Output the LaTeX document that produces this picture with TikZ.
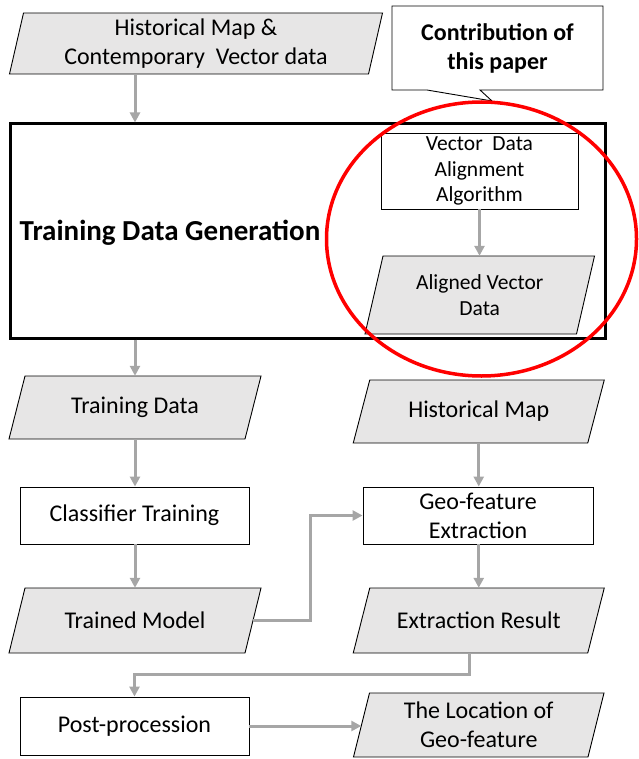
\documentclass[tikz,border=0pt]{standalone}
\usepackage{fontspec}
\setmainfont{Carlito}
\usetikzlibrary{arrows.meta,calc}
\definecolor{paragray}{HTML}{E7E6E6}
\definecolor{linegray}{HTML}{A6A6A6}
\tikzset{
  txt/.style={font=\fontsize{24}{29}\selectfont, align=center, inner sep=0pt, text=black},
  paratext/.style={txt, draw=none},
  parashape/.style={draw=black, line width=0.9pt, fill=paragray},
  procbox/.style={txt, draw=black, line width=0.9pt, fill=white},
  conn/.style={draw=linegray, line width=3pt, -{Triangle[length=10pt,width=10pt]}},
}
% #1 options, #2 name, #3 cx, #4 cy, #5 mid width, #6 height, #7 half slant, #8 text
\newcommand\ParaBox[8][]{%
  \filldraw[parashape] (#3-#5/2-#7, #4+#6/2) -- (#3-#5/2+#7, #4-#6/2) -- (#3+#5/2+#7, #4-#6/2) -- (#3+#5/2-#7, #4+#6/2) -- cycle;
  \node[paratext, minimum width=#5, minimum height=#6, #1] (#2) at (#3,#4) {#8};}
\begin{document}
\begin{tikzpicture}[x=1pt, y=-1pt]
\useasboundingbox (0,0) rectangle (638,759);

% source data
\ParaBox{src}{196}{43.5}{359}{61}{7}{Historical Map \&\\Contemporary\ \ Vector data}

% callout
\filldraw[draw=black, line width=0.9pt, fill=white] (392,6) -- (603,6) -- (603,90) -- (480,90) -- (492,101) -- (427,90) -- (392,90) -- cycle;
\node[txt, font=\fontsize{24}{29}\selectfont\bfseries] (contrib) at (497.5,48) {Contribution of\\this paper};

% training data generation frame
\node[draw=black, line width=3pt, minimum width=595, minimum height=214, inner sep=0pt] (tdg) at (307.5,231) {};
\node[txt, font=\fontsize{29}{35}\selectfont\bfseries] (tdgt) at (170,233) {Training Data Generation};

\node[procbox, minimum width=197, minimum height=76, font=\fontsize{21.5}{25.7}\selectfont] (vda) at (479.5,171) {Vector\ \ Data\\Alignment\\Algorithm};
\ParaBox[font=\fontsize{21.5}{25.7}\selectfont]{avd}{479.75}{295}{211.5}{78}{9}{Aligned Vector\\Data}

% left column
\ParaBox{td}{135}{407.5}{236}{63}{8}{Training Data}
\node[procbox, minimum width=229, minimum height=57] (ct) at (134.5,515.5) {Classifier Training};
\ParaBox{tm}{135}{620.5}{236}{65}{8}{Trained Model}
\node[procbox, minimum width=229, minimum height=58] (pp) at (134.5,726) {Post-procession};

% right column
\ParaBox{hm}{478.75}{411.5}{234.5}{63}{8.25}{Historical Map}
\node[procbox, minimum width=230, minimum height=57] (gfe) at (478,515.5) {Geo-feature\\Extraction};
\ParaBox{er}{478.75}{620.5}{234.5}{65}{8.25}{Extraction Result}
\ParaBox{loc}{478.75}{725}{234.5}{64}{8}{The Location of\\Geo-feature}

% connectors
\draw[conn] (src.south -| td.north) -- (tdg.north -| td.north);
\draw[conn] (tdg.south -| td.north) -- (td.north);
\draw[conn] (vda.south) -- (vda.south |- avd.north);
\draw[conn] (td.south) -- (td.south |- ct.north);
\draw[conn] (ct.south -| tm.north) -- (tm.north);
\draw[conn] (hm.south) -- (hm.south |- gfe.north);
\draw[conn] (gfe.south -| er.north) -- (er.north);
\draw[conn] (tm.east) -- ++(57,0) |- (gfe.west);
\draw[conn] ($(er.south)+(-9,0)$) -- ++(0,21) -| (pp.north);
\draw[conn] (pp.east) -- (pp.east -| loc.west);

% highlight
\draw[red, line width=3.5pt] (481.5,239) ellipse [x radius=155, y radius=137];
\end{tikzpicture}
\end{document}
